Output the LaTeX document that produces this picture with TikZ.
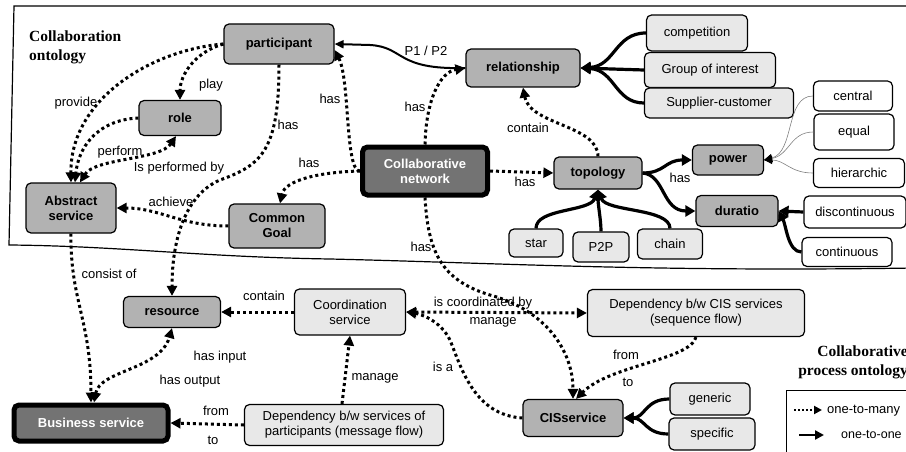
\documentclass[tikz,border=0pt]{standalone}
\usepackage{fontspec}
\setmainfont{Liberation Sans}
\newfontfamily\titlefont{Liberation Serif}
\definecolor{conceptgray}{RGB}{178,178,178}
\definecolor{instgray}{RGB}{232,232,232}
\definecolor{coregray}{RGB}{115,115,115}
\usetikzlibrary{arrows.meta}

\begin{document}
\begin{tikzpicture}[x=1pt, y=-1pt,
    conceptbox/.style={draw, fill=conceptgray, rounded corners=5pt, line width=1.2pt,
      inner sep=1pt, font=\fontsize{13}{15}\selectfont\bfseries, align=center},
    corebox/.style={conceptbox, fill=coregray, text=white, line width=5pt},
    instbox/.style={conceptbox, fill=instgray, font=\fontsize{13}{15}\selectfont},
    valuebox/.style={instbox, fill=white},
    lbl/.style={font=\fontsize{13}{15}\selectfont, inner sep=0pt},
    titlelbl/.style={font=\titlefont\bfseries\fontsize{15.5}{19}\selectfont, inner sep=0pt},
    dotarrow/.style={line width=3pt, dash pattern=on 3pt off 3pt, -{Triangle[length=10pt, width=10pt]}},
    dotboth/.style={dotarrow, {Triangle[length=10pt, width=10pt]}-{Triangle[length=10pt, width=10pt]}},
    linkarrow/.style={line width=3.2pt, -{Triangle[length=10pt, width=11pt]}},
    thinarrow/.style={draw=gray, line width=0.6pt, -{Triangle[length=8pt, width=8pt, black]}},
  ]
    \useasboundingbox (0,0) rectangle (906,452);
    \draw[line width=1.2pt] (915,6) -- (14,6) -- (9,245) .. controls (120,246) and (200,257) .. (330,259)
      .. controls (500,263) and (650,272) .. (915,268);
    \node[titlelbl, align=left, anchor=west] (collabtitle) at (29,47) {Collaboration\\ontology};
    \node[titlelbl, align=right, anchor=east] (processtitle) at (908,362) {Collaborative\\process ontology};

    \node[conceptbox, minimum width=110, minimum height=40] (participant) at (279,44) {participant};
    \node[conceptbox, minimum width=82, minimum height=35] (role) at (180,118) {role};
    \node[conceptbox, minimum width=90, minimum height=50] (abstract) at (71,208) {Abstract\\service};
    \node[conceptbox, minimum width=96, minimum height=44] (goal) at (277,226) {Common\\Goal};
    \node[corebox, minimum width=125, minimum height=48] (network) at (425,171) {Collaborative\\network};
    \node[conceptbox, minimum width=114, minimum height=38] (relationship) at (523,68) {relationship};
    \node[conceptbox, minimum width=88, minimum height=32] (topology) at (598,173) {topology};
    \node[conceptbox, minimum width=71, minimum height=30] (power) at (728,160) {power};
    \node[conceptbox, minimum width=82, minimum height=31] (duratio) at (737,211) {duratio};
    \node[conceptbox, minimum width=97, minimum height=31] (resource) at (172,312) {resource};
    \node[corebox, minimum width=154, minimum height=36] (business) at (91,423) {Business service};
    \node[conceptbox, minimum width=100, minimum height=37] (cisservice) at (573,418) {CISservice};

    \node[instbox, minimum width=101, minimum height=36] (competition) at (697,33) {competition};
    \node[instbox, minimum width=131, minimum height=35] (interest) at (710,70) {Group of interest};
    \node[instbox, minimum width=149, minimum height=30] (supplier) at (719,103) {Supplier-customer};
    \node[instbox, minimum width=54, minimum height=28] (star) at (536,243) {star};
    \node[instbox, minimum width=56, minimum height=30] (ptp) at (601,247) {P2P};
    \node[instbox, minimum width=65, minimum height=30] (chain) at (670,244) {chain};
    \node[instbox, minimum width=111, minimum height=46] (coordination) at (350,312) {Coordination\\service};
    \node[instbox, minimum width=199, minimum height=41] (msgdep) at (344,425) {Dependency b/w services of\\participants (message flow)};
    \node[instbox, minimum width=217, minimum height=47] (seqdep) at (696,313) {Dependency b/w CIS services\\(sequence flow)};
    \node[instbox, minimum width=80, minimum height=32] (generic) at (710,399) {generic};
    \node[instbox, minimum width=86, minimum height=32] (specific) at (712,434) {specific};

    \node[valuebox, minimum width=79, minimum height=30] (central) at (853,96) {central};
    \node[valuebox, minimum width=80, minimum height=36] (equal) at (854,132) {equal};
    \node[valuebox, minimum width=91, minimum height=29] (hierarchic) at (859,173) {hierarchic};
    \node[valuebox, minimum width=102, minimum height=32] (discontinuous) at (855,212) {discontinuous};
    \node[valuebox, minimum width=90, minimum height=29] (continuous) at (847,252) {continuous};

    \draw[dotarrow] (participant.west) .. controls (150,50) and (70,100) .. (abstract.north);
    \draw[dotarrow] (participant.west) .. controls (195,52) and (180,75) .. (role.north);
    \draw[dotarrow] (role.west) .. controls (95,120) and (78,150) .. ([xshift=4pt]abstract.north);
    \draw[dotboth] ([xshift=9pt]abstract.north) .. controls (95,158) and (160,160) .. ([xshift=-4pt]role.south);
    \draw[dotarrow] (participant.south) .. controls (279,150) and (262,165) .. (220,180)
      .. controls (185,195) and (172,240) .. (resource.north);
    \draw[dotarrow] (goal.west) .. controls (180,226) and (160,208) .. (abstract.east);
    \draw[dotarrow] (network.west) .. controls (345,172) and (350,80) .. ([yshift=-6pt]participant.east);
    \draw[dotarrow] (network.west) .. controls (320,172) and (285,180) .. ([xshift=3pt]goal.north);
    \draw[dotarrow] (network.north) .. controls (426,100) and (440,72) .. (relationship.west);
    \draw[dotarrow] (network.east) -- (topology.west);
    \draw[dotarrow] (topology.north) .. controls (598,125) and (530,125) .. (relationship.south);
    \draw[line width=2pt, -{Triangle[length=9pt, width=8pt]}] (relationship.west)
      .. controls (395,70) and (405,47) .. (370,45) -- (participant.east);

    \draw[linkarrow] (competition.west) .. controls (615,33) and (615,66) .. (relationship.east);
    \draw[linkarrow] (interest.west) -- (relationship.east);
    \draw[linkarrow] (supplier.west) .. controls (615,103) and (615,70) .. (relationship.east);
    \draw[linkarrow] (star.north) .. controls (536,208) and (590,212) .. (topology.south);
    \draw[linkarrow] (ptp.north) .. controls (601,220) and (598,205) .. (topology.south);
    \draw[linkarrow] (chain.north) .. controls (670,208) and (606,212) .. (topology.south);
    \draw[linkarrow] (topology.east) .. controls (665,173) and (665,160) .. (power.west);
    \draw[linkarrow] (topology.east) .. controls (665,175) and (662,211) .. (duratio.west);
    \draw[thinarrow] (central.west) .. controls (785,96) and (795,152) .. (power.east);
    \draw[thinarrow] (equal.west) .. controls (790,132) and (790,155) .. (power.east);
    \draw[thinarrow] (hierarchic.west) .. controls (790,173) and (785,160) .. (power.east);
    \draw[linkarrow] (discontinuous.west) -- (duratio.east);
    \draw[linkarrow] (continuous.west) .. controls (788,252) and (786,225) .. (duratio.east);

    \draw[dotarrow] (abstract.south) .. controls (70,300) and (91,320) .. (business.north);
    \draw[dotboth] ([xshift=3pt]business.north) .. controls (100,370) and (160,370) .. (resource.south);
    \draw[dotarrow] (coordination.west) -- (resource.east);
    \draw[dotarrow] ([xshift=-2pt]msgdep.north) -- (coordination.south);
    \draw[dotarrow] (msgdep.west) -- (business.east);
    \draw[dotboth] (coordination.east) -- (seqdep.west);
    \draw[dotarrow] (network.south) .. controls (428,250) and (440,280) .. (490,295)
      .. controls (545,310) and (573,350) .. (cisservice.north);
    \draw[dotarrow] (cisservice.west) .. controls (475,415) and (462,370) .. (450,340)
      .. controls (440,320) and (420,314) .. (coordination.east);
    \draw[dotarrow] (seqdep.south) .. controls (690,360) and (610,365) .. ([xshift=3pt]cisservice.north);
    \draw[linkarrow] (generic.west) .. controls (645,399) and (645,418) .. (cisservice.east);
    \draw[linkarrow] (specific.west) .. controls (645,434) and (645,418) .. (cisservice.east);

    \node[lbl] (lprovide) at (76,103) {provide};
    \node[lbl] (lplay) at (211,85) {play};
    \node[lbl] (lperform) at (120,152) {perform};
    \node[lbl] (lperformed) at (179,168) {Is performed by};
    \node[lbl] (lhasres) at (288,125) {has};
    \node[lbl] (lachieve) at (171,202) {achieve};
    \node[lbl] (lhaspart) at (330,99) {has};
    \node[lbl] (lhasgoal) at (309,163) {has};
    \node[lbl] (lhasrel) at (415,107) {has};
    \node[lbl] (lhastopo) at (525,182) {has};
    \node[lbl] (lcontain) at (528,128) {contain};
    \node[lbl] (lp1p2) at (426,51) {P1 / P2};
    \node[lbl] (lhaspow) at (680,178) {has};
    \node[lbl] (lconsist) at (109,274) {consist of};
    \node[lbl] (lcontainres) at (264,296) {contain};
    \node[lbl] (linput) at (220,357) {has input};
    \node[lbl] (loutput) at (190,381) {has output};
    \node[lbl] (lmanage) at (375,378) {manage};
    \node[lbl] (lfrom) at (216,411) {from};
    \node[lbl] (lto) at (213,440) {to};
    \node[lbl] (lcoord) at (483,303) {is coordinated by};
    \node[lbl] (lmanagecis) at (493,322) {manage};
    \node[lbl] (lhascis) at (421,247) {has};
    \node[lbl] (lisa) at (443,367) {is a};
    \node[lbl] (lfromcis) at (626,355) {from};
    \node[lbl] (ltocis) at (628,382) {to};

    \draw[line width=1pt] (786,390) rectangle (915,460);
    \coordinate (manyA) at (794,410);
    \coordinate (manyB) at (822,410);
    \coordinate (oneA) at (799,435);
    \coordinate (oneB) at (824,435);
    \draw[line width=2.2pt, dash pattern=on 2pt off 2pt, -{Triangle[length=8pt, width=8pt]}] (manyA) -- (manyB);
    \draw[line width=2.5pt, -{Triangle[length=9pt, width=9pt]}] (oneA) -- (oneB);
    \node[lbl, anchor=west] (lmany) at (827,411) {one-to-many};
    \node[lbl, anchor=west, font=\fontsize{12.5}{15}\selectfont] (lone) at (841,435) {one-to-one};
  \end{tikzpicture}
\end{document}
